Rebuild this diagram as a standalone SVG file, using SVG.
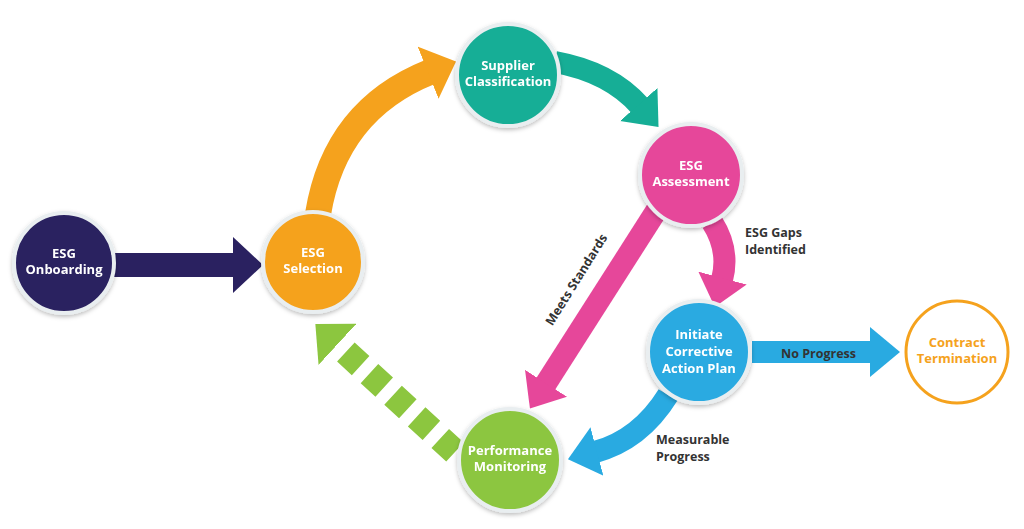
<svg xmlns="http://www.w3.org/2000/svg" width="1024" height="529" viewBox="0 0 1024 529">
<style>
.t{font-family:"Open Sans","Liberation Sans",sans-serif;font-weight:700;font-size:13px;fill:#fff;text-anchor:middle}
.l{font-family:"Open Sans","Liberation Sans",sans-serif;font-weight:700;font-size:12.5px;fill:#333}
.c{stroke:#e9eef0;stroke-width:4}
.a{fill:none}
</style>
<defs>
<filter id="sh" x="-20%" y="-20%" width="140%" height="140%"><feDropShadow dx="0" dy="2" stdDeviation="2" flood-opacity="0.25"/></filter>
<marker id="mN" viewBox="0 0 30 56" markerWidth="30" markerHeight="56" refX="2" refY="28" orient="auto" markerUnits="userSpaceOnUse"><path d="M0,0 L30,28 L0,56 z" fill="#2a2160"/></marker>
<marker id="mO" viewBox="0 0 30 56" markerWidth="30" markerHeight="56" refX="2" refY="28" orient="auto" markerUnits="userSpaceOnUse"><path d="M0,0 L30,28 L0,56 z" fill="#f5a21d"/></marker>
<marker id="mT" viewBox="0 0 30 50" markerWidth="30" markerHeight="50" refX="2" refY="25" orient="auto" markerUnits="userSpaceOnUse"><path d="M0,0 L30,25 L0,50 z" fill="#16ae96"/></marker>
<marker id="mP" viewBox="0 0 30 50" markerWidth="30" markerHeight="50" refX="2" refY="25" orient="auto" markerUnits="userSpaceOnUse"><path d="M0,0 L30,25 L0,50 z" fill="#e6479a"/></marker>
<marker id="mB" viewBox="0 0 30 50" markerWidth="30" markerHeight="50" refX="2" refY="25" orient="auto" markerUnits="userSpaceOnUse"><path d="M0,0 L30,25 L0,50 z" fill="#29aae1"/></marker>
<marker id="mG" viewBox="0 0 30 56" markerWidth="30" markerHeight="56" refX="2" refY="28" orient="auto" markerUnits="userSpaceOnUse"><path d="M0,0 L30,28 L0,56 z" fill="#8cc63f"/></marker>
</defs>
<rect width="1024" height="529" fill="#fff"/>
<g id="connectors">
<path class="a" d="M112,265 L235,265" stroke="#2a2160" stroke-width="24" marker-end="url(#mN)"/>
<path class="a" d="M318,214 Q335,110 430,72" stroke="#f5a21d" stroke-width="26" marker-end="url(#mO)"/>
<path class="a" d="M555,62 Q610,72 640,106" stroke="#16ae96" stroke-width="22" marker-end="url(#mT)"/>
<path class="a" d="M660,205 L545,385" stroke="#e6479a" stroke-width="22" marker-end="url(#mP)"/>
<path class="a" d="M712,222 Q730,250 722,280" stroke="#e6479a" stroke-width="22" marker-end="url(#mP)"/>
<path class="a" d="M752,352 L872,352" stroke="#29aae1" stroke-width="22" marker-end="url(#mB)"/>
<path class="a" d="M668,395 Q640,440 595,452" stroke="#29aae1" stroke-width="22" marker-end="url(#mB)"/>
<path class="a" d="M455,452 L336,343" stroke="#8cc63f" stroke-width="26" stroke-dasharray="20 12" marker-end="url(#mG)"/>
<text class="l" transform="translate(580,282) rotate(-58)" text-anchor="middle">Meets Standards</text>
<text class="l" x="745" y="237">ESG Gaps</text>
<text class="l" x="745" y="254">Identified</text>
<text class="l" x="781" y="358">No Progress</text>
<text class="l" x="656" y="444">Measurable</text>
<text class="l" x="656" y="461">Progress</text>
</g>
<g id="onboarding" filter="url(#sh)"><circle class="c" cx="64" cy="263" r="50" fill="#2a2160"/><text class="t" x="64" y="258">ESG</text><text class="t" x="64" y="274">Onboarding</text></g>
<g id="selection" filter="url(#sh)"><circle class="c" cx="313" cy="262" r="50" fill="#f5a21d"/><text class="t" x="313" y="257">ESG</text><text class="t" x="313" y="273">Selection</text></g>
<g id="classification" filter="url(#sh)"><circle class="c" cx="508" cy="75" r="51" fill="#16ae96"/><text class="t" x="508" y="70">Supplier</text><text class="t" x="508" y="86">Classification</text></g>
<g id="assessment" filter="url(#sh)"><circle class="c" cx="691" cy="175" r="51" fill="#e6479a"/><text class="t" x="691" y="170">ESG</text><text class="t" x="691" y="186">Assessment</text></g>
<g id="corrective" filter="url(#sh)"><circle class="c" cx="699" cy="352" r="51" fill="#29aae1"/><text class="t" x="699" y="339">Initiate</text><text class="t" x="699" y="356">Corrective</text><text class="t" x="699" y="373">Action Plan</text></g>
<g id="termination"><circle cx="957" cy="352" r="51" fill="#fff" stroke="#f5a21d" stroke-width="3"/><text class="t" x="957" y="347" style="fill:#f5a21d">Contract</text><text class="t" x="957" y="363" style="fill:#f5a21d">Termination</text></g>
<g id="monitoring" filter="url(#sh)"><circle class="c" cx="510" cy="460" r="51" fill="#8cc63f"/><text class="t" x="510" y="455">Performance</text><text class="t" x="510" y="471">Monitoring</text></g>
</svg>
